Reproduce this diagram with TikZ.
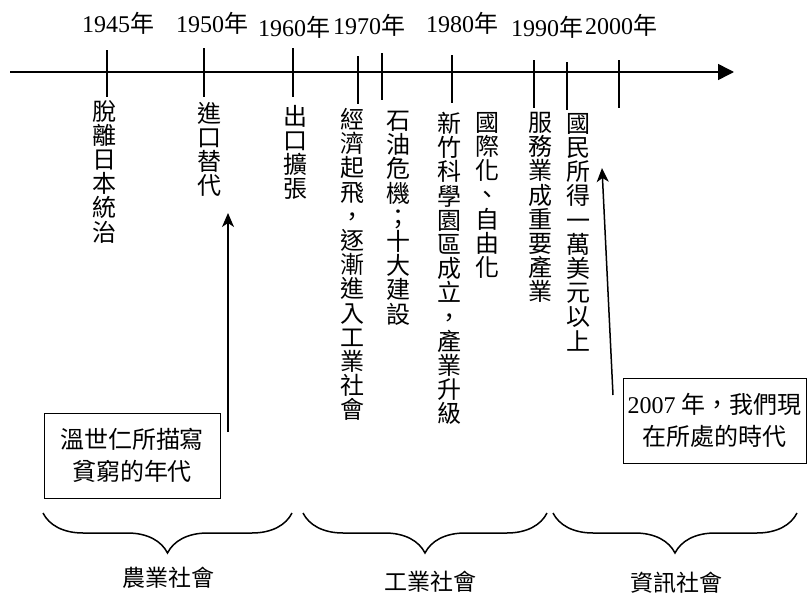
\documentclass[tikz,border=0pt]{standalone}
\usepackage{fontspec}
\setmainfont{Liberation Serif}
\newfontfamily\cjk{Noto Sans CJK TC}
\usetikzlibrary{arrows.meta,decorations.pathreplacing}
\tikzset{
  yearlbl/.style={inner sep=0pt, font=\fontsize{24}{24}\selectfont},
  vcol/.style={anchor=north, inner sep=0pt, align=center, font=\cjk\fontsize{24}{24.2}\selectfont},
  tickline/.style={line width=1.7pt},
  axisline/.style={line width=1.5pt, -{Triangle[length=16pt,width=16pt]}},
  uparrow/.style={line width=1.5pt, -{Stealth[length=14pt,width=12pt,inset=4pt]}},
  notebox/.style={draw, line width=1pt, align=center, inner sep=0pt, font=\fontsize{24}{32}\selectfont},
  bracepath/.style={line width=1.5pt, decorate, decoration={brace, mirror, amplitude=40pt}},
  eralbl/.style={inner sep=0pt, font=\cjk\fontsize{23}{23}\selectfont},
}
\begin{document}
\begin{tikzpicture}[x=1pt,y=-1pt]
\useasboundingbox (0,0) rectangle (807,597);
% axis
\coordinate (ax0) at (10,72);
\coordinate (ax1) at (734,72);
\draw[axisline] (ax0) -- (ax1);
% ticks
\foreach \n/\x/\ya/\yb in {1/107/50/97, 2/204/48/97, 3/293/48/97, 4/358/56/104, 5/382/53/100,
  6/452/55/103, 7/534/60/108, 8/567/62/110, 9/619/60/108}{
  \coordinate (ta\n) at (\x,\ya);
  \coordinate (tb\n) at (\x,\yb);
  \draw[tickline] (ta\n) -- (tb\n);
}
% years
\node[yearlbl] (y1945) at (118,23) {1945{\cjk 年}};
\node[yearlbl] (y1950) at (212,23) {1950{\cjk 年}};
\node[yearlbl] (y1960) at (294,27) {1960{\cjk 年}};
\node[yearlbl] (y1970) at (369,25) {1970{\cjk 年}};
\node[yearlbl] (y1980) at (462,23) {1980{\cjk 年}};
\node[yearlbl] (y1990) at (547,27) {1990{\cjk 年}};
\node[yearlbl] (y2000) at (621,25) {2000{\cjk 年}};
% vertical texts
\node[vcol] (c1) at (104,100) {脫\\離\\日\\本\\統\\治};
\node[vcol] (c2) at (209,102) {進\\口\\替\\代};
\node[vcol] (c3) at (295,105) {出\\口\\擴\\張};
\node[vcol] (c4) at (352,108) {經\\濟\\起\\飛\\，\\逐\\漸\\進\\入\\工\\業\\社\\會};
\node[vcol] (c5) at (398,111) {石\\油\\危\\機\\；\\十\\大\\建\\設};
\node[vcol] (c6) at (449,112) {新\\竹\\科\\學\\園\\區\\成\\立\\，\\產\\業\\升\\級};
\node[vcol] (c7) at (487,112) {國\\際\\化\\、\\自\\由\\化};
\node[vcol] (c8) at (540,112) {服\\務\\業\\成\\重\\要\\產\\業};
\node[vcol] (c9) at (578,113) {國\\民\\所\\得\\一\\萬\\美\\元\\以\\上};
% boxes
\node[notebox, minimum width=176pt, minimum height=85pt] (box1) at (132,455.5)
  {{\cjk 溫世仁所描寫}\\{\cjk 貧窮的年代}};
\node[notebox, minimum width=183pt, minimum height=85pt] (box2) at (714.5,420.5)
  {2007 {\cjk 年，我們現}\\{\cjk 在所處的時代}};
% arrows
\coordinate (a1s) at (228,432);
\coordinate (a1e) at (228,213);
\draw[uparrow] (a1s) -- (a1e);
\coordinate (a2s) at (613,395);
\coordinate (a2e) at (602,168);
\draw[uparrow] (a2s) -- (a2e);
% braces
\coordinate (b1s) at (43,513);  \coordinate (b1e) at (292,513);
\coordinate (b2s) at (303,513); \coordinate (b2e) at (547,513);
\coordinate (b3s) at (553,513); \coordinate (b3e) at (797,513);
\draw[bracepath] (b1s) -- (b1e);
\draw[bracepath] (b2s) -- (b2e);
\draw[bracepath] (b3s) -- (b3e);
\node[eralbl] (e1) at (168,578) {農業社會};
\node[eralbl] (e2) at (430,582) {工業社會};
\node[eralbl] (e3) at (676,583) {資訊社會};
\end{tikzpicture}
\end{document}
